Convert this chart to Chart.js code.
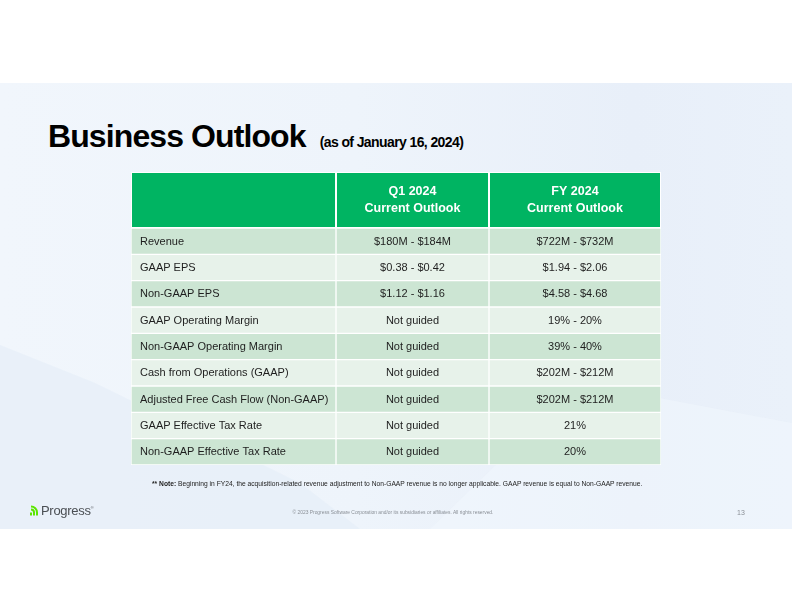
<!DOCTYPE html>
<html>
<head>
<meta charset="utf-8">
<script src="https://cdn.jsdelivr.net/npm/chart.js@4"></script>
<style>
  html, body { margin: 0; padding: 0; }
  body { width: 792px; height: 612px; position: relative; overflow: hidden; background: #fff; font-family: 'Liberation Sans', Arial, sans-serif; }
  .band { position: absolute; left: 0; top: 83px; width: 792px; height: 446px;
    background: linear-gradient(90deg, #f1f6fc 0%, #eef4fb 45%, #e8eff9 80%, #eaf1fa 100%); overflow: hidden; }
  .shape1 { position: absolute; left: 0; top: 0; width: 792px; height: 446px;
    background: #e6eef8; clip-path: polygon(0 262px, 95px 300px, 300px 400px, 360px 446px, 0 446px); opacity: .7; }
  .shape2 { position: absolute; left: 0; top: 0; width: 792px; height: 446px;
    background: #f2f7fd; clip-path: polygon(430px 446px, 580px 300px, 792px 340px, 792px 446px); opacity: .5; }
  #c { position: absolute; left: 0; top: 0; }
  .title { position: absolute; left: 48px; top: 118px; white-space: nowrap; color: #000; font-weight: bold; }
  .title .big { font-size: 32px; letter-spacing: -0.9px; }
  .title .small { font-size: 14px; letter-spacing: -0.6px; margin-left: 14px; }
  .note { position: absolute; left: 152px; top: 480px; font-size: 6.7px; color: #222; white-space: nowrap; }
  .copy { position: absolute; left: 0; width: 786px; top: 510px; text-align: center; font-size: 4.9px; color: #8a8f96; white-space: nowrap; }
  .page { position: absolute; left: 737px; top: 509px; font-size: 7px; color: #8a8f96; }
  .logo { position: absolute; left: 30px; top: 501px; white-space: nowrap; }
  .logo span { font-size: 13px; color: #4b4f54; letter-spacing: -0.3px; vertical-align: middle; margin-left: 1px; }
  .logo svg { vertical-align: middle; }
</style>
</head>
<body>
<div class="band"><div class="shape1"></div><div class="shape2"></div></div>
<div class="title"><span class="big">Business Outlook</span><span class="small">(as of January 16, 2024)</span></div>
<canvas id="c" width="792" height="612"></canvas>
<div class="note"><b>** Note:</b> Beginning in FY24, the acquisition-related revenue adjustment to Non-GAAP revenue is no longer applicable. GAAP revenue is equal to Non-GAAP revenue.</div>
<div class="copy">© 2023 Progress Software Corporation and/or its subsidiaries or affiliates. All rights reserved.</div>
<div class="page">13</div>
<div class="logo"><svg width="10" height="13" viewBox="0 0 10 12"><path d="M1 4 A4 4 0 0 1 5 8 L5 11 L3 11 L3 8 A2 2 0 0 0 1 6 Z" fill="#5ce500"/><path d="M1 1 A7 7 0 0 1 8 8 L8 11 L6 11 L6 8 A5 5 0 0 0 1 3 Z" fill="#5ce500"/><rect x="0" y="8" width="2" height="3" fill="#5ce500"/></svg><span>Progress</span><sup style="font-size:4px;color:#4b4f54">®</sup></div>

<script>
// table contents
const rowLabels = [
  'Revenue',
  'GAAP EPS',
  'Non-GAAP EPS',
  'GAAP Operating Margin',
  'Non-GAAP Operating Margin',
  'Cash from Operations (GAAP)',
  'Adjusted Free Cash Flow (Non-GAAP)',
  'GAAP Effective Tax Rate',
  'Non-GAAP Effective Tax Rate'
]
const q1Values = [
  '$180M - $184M', '$0.38 - $0.42', '$1.12 - $1.16',
  'Not guided', 'Not guided', 'Not guided', 'Not guided', 'Not guided', 'Not guided'
]
const fyValues = [
  '$722M - $732M', '$1.94 - $2.06', '$4.58 - $4.68',
  '19% - 20%', '39% - 40%', '$202M - $212M', '$202M - $212M', '21%', '20%'
]
const headers = [[''], ['Q1 2024', 'Current Outlook'], ['FY 2024', 'Current Outlook']]

// layout (column edges in x-axis units, header height in px)
const colEdges = [0, 205, 358, 530]
const headerHeight = 56
const columns = [rowLabels, q1Values, fyValues]

const green = '#00b462'
const rowDark = '#cce5d3'
const rowLight = '#e7f2ea'

const tablePlugin = {
  id: 'tablePlugin',
  beforeDatasetsDraw (chart) {
    const ctx = chart.ctx
    const x = chart.scales.x
    const top = chart.chartArea.top
    ctx.save()
    for (let i = 0; i < 3; i++) {
      const x0 = x.getPixelForValue(colEdges[i])
      const x1 = x.getPixelForValue(colEdges[i + 1])
      ctx.fillStyle = '#ffffff'
      ctx.fillRect(x0, top - headerHeight, x1 - x0, headerHeight)
      ctx.fillStyle = green
      ctx.fillRect(x0 + 1, top - headerHeight + 1, x1 - x0 - 2, headerHeight - 2)
      ctx.fillStyle = '#ffffff'
      ctx.font = 'bold 12.5px "Liberation Sans", Arial, sans-serif'
      ctx.textAlign = 'center'
      ctx.textBaseline = 'middle'
      const lines = headers[i]
      lines.forEach((t, k) => {
        ctx.fillText(t, (x0 + x1) / 2, top - headerHeight / 2 + (k - (lines.length - 1) / 2) * 16.5)
      })
    }
    ctx.restore()
  },
  afterDatasetsDraw (chart) {
    const ctx = chart.ctx
    ctx.save()
    ctx.font = '11px "Liberation Sans", Arial, sans-serif'
    ctx.fillStyle = '#1e1e1e'
    ctx.textBaseline = 'middle'
    chart.data.datasets.forEach((ds, i) => {
      chart.getDatasetMeta(i).data.forEach((bar, j) => {
        const p = bar.getProps(['x', 'y', 'base'], true)
        const left = Math.min(p.x, p.base)
        const right = Math.max(p.x, p.base)
        const txt = columns[i][j]
        if (i === 0) {
          ctx.textAlign = 'left'
          ctx.fillText(txt, left + 9, p.y + 0.5)
        } else {
          ctx.textAlign = 'center'
          ctx.fillText(txt, (left + right) / 2, p.y + 0.5)
        }
      })
    })
    ctx.restore()
  }
}

const rowColor = c => (c.dataIndex % 2 === 0 ? rowDark : rowLight)

new Chart(document.getElementById('c'), {
  type: 'bar',
  data: {
    labels: rowLabels,
    datasets: columns.map((col, i) => ({
      label: 'col' + i,
      data: col.map(() => [colEdges[i], colEdges[i + 1]]),
      backgroundColor: rowColor,
      borderColor: '#ffffff',
      borderWidth: 1,
      borderSkipped: false,
      barPercentage: 1,
      categoryPercentage: 1,
      grouped: false
    }))
  },
  options: {
    indexAxis: 'y',
    responsive: false,
    animation: false,
    layout: { padding: { left: 131, right: 131, top: 228, bottom: 147 } },
    scales: {
      x: { type: 'linear', min: 0, max: 530, display: false },
      y: { display: false }
    },
    plugins: { legend: { display: false }, tooltip: { enabled: false } }
  },
  plugins: [tablePlugin]
})
</script>
</body>
</html>
